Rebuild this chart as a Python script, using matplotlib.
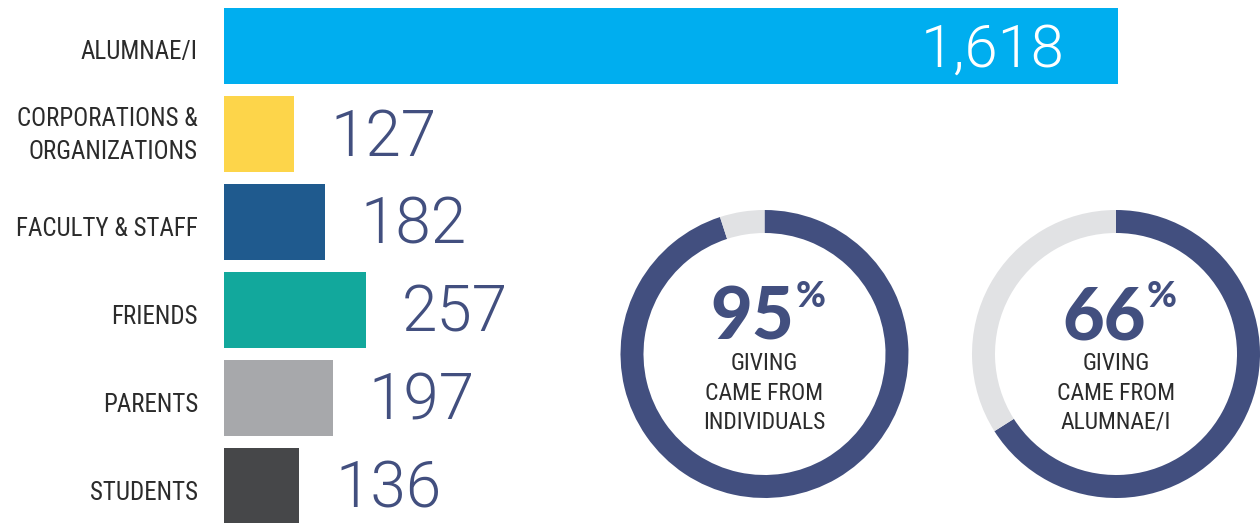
import matplotlib
matplotlib.use("Agg")
import matplotlib.pyplot as plt
from matplotlib import font_manager
import numpy as np

# data
categories = ["ALUMNAE/I", "CORPORATIONS &\nORGANIZATIONS", "FACULTY & STAFF",
              "FRIENDS", "PARENTS", "STUDENTS"]
donors = [1618, 127, 182, 257, 197, 136]
bar_colors = ["#00aeef", "#fdd54a", "#1f5a8e", "#12a89c", "#a7a8ab", "#464749"]

ring_values = [95, 66]
ring_captions = [["GIVING", "CAME FROM", "INDIVIDUALS"],
                 ["GIVING", "CAME FROM", "ALUMNAE/I"]]

NAVY = "#424f7f"
RING_GRAY = "#e1e2e4"
LABEL_GRAY = "#2b2b2b"


def pick_font(names):
    have = {f.name for f in font_manager.fontManager.ttflist}
    for n in names:
        if n in have:
            return n
    return "DejaVu Sans"


label_font = pick_font(["Liberation Sans Narrow", "Roboto Condensed", "Lato"])
num_font = pick_font(["Roboto", "Lato", "Open Sans"])
pct_font = pick_font(["Lato", "Roboto"])

W, H = 1260, 523
fig = plt.figure(figsize=(W / 100, H / 100), dpi=100)

# bar panel: x=0 sits at pixel 224, 0.5525 px per donor
px_per_unit = 0.5525
bar_left = 224
ax = fig.add_axes([bar_left / W, 0, (W - bar_left) / W, 1])
ax.set_xlim(0, (W - bar_left) / px_per_unit)
pos = np.arange(len(categories))
step = 88.0
first_center = 45.5
ax.set_ylim((H - first_center) / step, -first_center / step)
ax.barh(pos, donors, height=76 / step, color=bar_colors, zorder=2)
ax.axis("off")

for i, (cat, val) in enumerate(zip(categories, donors)):
    dy = -2 if "\n" in cat else -7
    ax.annotate(cat, xy=(0, pos[i]), xytext=(-26, dy), textcoords="offset pixels",
                ha="right", va="center", multialignment="right", linespacing=1.45,
                fontsize=18, color=LABEL_GRAY, family=label_font)
    if i == 0:
        ax.annotate(f"{val:,}", xy=(val, pos[i]), xytext=(-53, -21.5),
                    textcoords="offset pixels", ha="right", va="baseline",
                    fontsize=43, color="white", family=num_font, weight=300)
    else:
        ax.annotate(f"{val}", xy=(val, pos[i]), xytext=(36, -22),
                    textcoords="offset pixels", ha="left", va="baseline",
                    fontsize=46, color=NAVY, family=num_font, weight=300)

# donut panels
ring_centers = [(764.5, 354), (1116, 354)]
R = 144
for (cx, cy), pct, cap in zip(ring_centers, ring_values, ring_captions):
    rax = fig.add_axes([(cx - R) / W, (H - cy - R) / H, 2 * R / W, 2 * R / H])
    rax.pie([pct, 100 - pct], colors=[NAVY, RING_GRAY], startangle=90,
            counterclock=False, radius=1,
            wedgeprops=dict(width=23 / R, linewidth=0))
    rax.set_xlim(-1, 1)
    rax.set_ylim(-1, 1)
    rax.set_aspect("equal")
    rax.axis("off")
    big = rax.annotate(f"{pct}", xy=(0, 0), xytext=(-12, 15), textcoords="offset pixels",
                       ha="center", va="baseline", fontsize=52, color=NAVY,
                       family=pct_font, weight=900)
    rax.annotate("%", xy=(1, 1), xycoords=big, xytext=(1, 5), textcoords="offset pixels",
                 ha="left", va="top", fontsize=26, color=NAVY,
                 family=pct_font, weight=900)
    for k, line in enumerate(cap):
        rax.annotate(line, xy=(0, 0), xytext=(0, -16 - 29.5 * k), textcoords="offset pixels",
                     ha="center", va="baseline",
                     fontsize=17, color=LABEL_GRAY, family=label_font)

fig.savefig("out.png", dpi=100)
